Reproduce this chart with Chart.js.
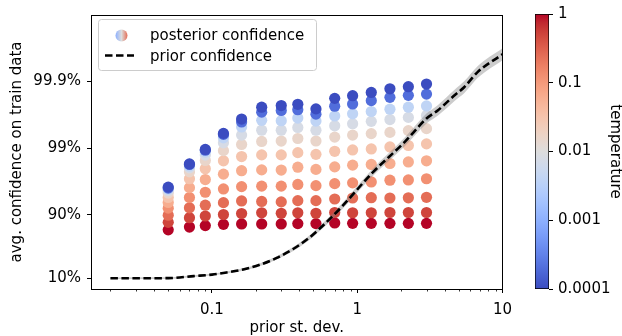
<!DOCTYPE html>
<html>
<head>
<meta charset="utf-8">
<script src="https://cdn.jsdelivr.net/npm/chart.js@4.4.0/dist/chart.umd.min.js"></script>
<style>
  html, body { margin: 0; padding: 0; background: #fff; }
  #wrap { position: relative; width: 622px; height: 336px; overflow: hidden; }
  #main { position: absolute; left: 0; top: 0; }
  #cbar { position: absolute; left: 520px; top: 0; }
</style>
</head>
<body>
<div id="wrap">
  <canvas id="main" width="520" height="336"></canvas>
  <canvas id="cbar" width="102" height="336"></canvas>
</div>
<script>
// y values are "nines" of confidence: -log10(1 - confidence)

// prior st. dev. of the scatter columns
const priorStd = [0.05, 0.07, 0.09, 0.12, 0.16, 0.22, 0.3, 0.39, 0.52, 0.7, 0.93, 1.25, 1.68, 2.25, 3.0];

// posterior temperatures (one row of dots per temperature)
const temperatures = [1, 0.5, 0.25, 0.125, 0.0625, 0.03125, 0.015625, 0.0078125, 0.00390625, 0.0002, 0.0001];

const post_t1     = [0.773, 0.815, 0.837, 0.856, 0.862, 0.862, 0.862, 0.867, 0.867, 0.877, 0.871, 0.871, 0.871, 0.871, 0.871];
const post_t2     = [0.886, 0.956, 0.981, 1.004, 1.019, 1.030, 1.022, 1.030, 1.022, 1.034, 1.030, 1.030, 1.034, 1.034, 1.034];
const post_t4     = [0.993, 1.104, 1.144, 1.182, 1.207, 1.200, 1.193, 1.212, 1.212, 1.237, 1.252, 1.256, 1.252, 1.255, 1.262];
const post_t8     = [1.099, 1.259, 1.338, 1.388, 1.422, 1.430, 1.430, 1.455, 1.437, 1.467, 1.479, 1.493, 1.519, 1.523, 1.541];
const post_t16    = [1.185, 1.407, 1.529, 1.610, 1.662, 1.674, 1.671, 1.714, 1.681, 1.719, 1.745, 1.756, 1.770, 1.793, 1.810];
const post_t32    = [1.259, 1.541, 1.692, 1.810, 1.874, 1.899, 1.899, 1.933, 1.907, 1.953, 1.973, 1.988, 2.018, 2.040, 2.064];
const post_t64    = [1.326, 1.644, 1.815, 1.963, 2.056, 2.101, 2.107, 2.145, 2.108, 2.166, 2.196, 2.219, 2.237, 2.264, 2.293];
const post_t128   = [1.363, 1.704, 1.896, 2.081, 2.196, 2.270, 2.270, 2.311, 2.270, 2.336, 2.367, 2.403, 2.430, 2.462, 2.492];
const post_t256   = [1.385, 1.733, 1.941, 2.156, 2.319, 2.418, 2.412, 2.452, 2.407, 2.484, 2.516, 2.551, 2.585, 2.615, 2.634];
const post_t2e4   = [1.400, 1.756, 1.970, 2.207, 2.393, 2.541, 2.566, 2.578, 2.511, 2.630, 2.664, 2.714, 2.763, 2.793, 2.812];
const post_t1e4   = [1.415, 1.763, 1.981, 2.222, 2.437, 2.615, 2.640, 2.659, 2.590, 2.748, 2.788, 2.837, 2.892, 2.923, 2.963];

const posteriorRows = [post_t1, post_t2, post_t4, post_t8, post_t16, post_t32, post_t64, post_t128, post_t256, post_t2e4, post_t1e4];

// prior confidence curve and its grey band
const priorX      = [0.02, 0.05, 0.075, 0.1, 0.126, 0.164, 0.213, 0.277, 0.36, 0.468, 0.608, 0.789, 1.265, 2.134, 3.0, 3.6, 4.68, 5.47, 6.74, 10];
const priorNines  = [0.046, 0.048, 0.079, 0.101, 0.133, 0.178, 0.248, 0.348, 0.482, 0.655, 0.879, 1.128, 1.625, 2.098, 2.445, 2.570, 2.794, 2.918, 3.142, 3.411];
const priorBandLo = [0.034, 0.036, 0.067, 0.088, 0.118, 0.160, 0.228, 0.323, 0.452, 0.620, 0.839, 1.083, 1.570, 2.033, 2.370, 2.490, 2.709, 2.828, 3.052, 3.321];
const priorBandHi = [0.058, 0.060, 0.091, 0.114, 0.148, 0.196, 0.268, 0.373, 0.512, 0.690, 0.919, 1.173, 1.680, 2.163, 2.520, 2.650, 2.879, 3.008, 3.232, 3.501];

// ticks
const xTickValues = [0.1, 1, 10];
const xTickLabels = ['0.1', '1', '10'];
const xMinorTicks = [0.02, 0.03, 0.04, 0.05, 0.06, 0.07, 0.08, 0.09,
                     0.2, 0.3, 0.4, 0.5, 0.6, 0.7, 0.8, 0.9,
                     2, 3, 4, 5, 6, 7, 8, 9];
const yTickConf = [0.1, 0.9, 0.99, 0.999];
const yTickLabels = ['10%', '90%', '99%', '99.9%'];
const cbarTickValues = [1, 0.1, 0.01, 0.001, 0.0001];
const cbarTickLabels = ['1', '0.1', '0.01', '0.001', '0.0001'];

Chart.defaults.font.family = 'DejaVu Sans';
Chart.defaults.font.size = 15;
Chart.defaults.color = '#000';

// matplotlib coolwarm, 33 samples
const COOLWARM = [
  [59,76,192],[68,90,204],[77,104,215],[87,117,225],[98,130,234],[108,142,241],[119,154,247],[130,165,251],
  [141,176,254],[152,185,255],[163,194,255],[174,201,253],[184,208,249],[194,213,244],[204,217,238],[213,219,230],
  [221,221,221],[229,216,209],[236,211,197],[241,204,185],[245,196,173],[247,187,160],[247,177,148],[247,166,135],
  [244,154,123],[241,141,111],[236,127,99],[229,112,88],[222,96,77],[213,80,66],[203,62,56],[192,40,47],[180,4,38]
];

const coolwarm = (t) => {
    t = Math.max(0, Math.min(1, t));
    const f = t * 32;
    const i = Math.min(31, Math.floor(f));
    const w = f - i;
    const a = COOLWARM[i], b = COOLWARM[i + 1];
    const c = a.map((v, k) => Math.round(v + (b[k] - v) * w));
    return `rgb(${c[0]},${c[1]},${c[2]})`;
};

// colorbar is log scaled from 1e-4 to 1
const tempPos = (T) => (Math.log10(T) + 4) / 4;

const datasets = [];
posteriorRows.forEach((row, i) => {
    datasets.push({
        type: 'scatter',
        data: row.map((v, j) => ({ x: priorStd[j], y: v })),
        backgroundColor: coolwarm(tempPos(temperatures[i])),
        borderWidth: 0,
        pointRadius: 5.6,
        pointHoverRadius: 5.6,
        order: 100 - i
    });
});

datasets.push({
    type: 'line',
    data: priorX.map((x, j) => ({ x: x, y: priorBandLo[j] })),
    borderWidth: 0,
    pointRadius: 0,
    fill: false,
    cubicInterpolationMode: 'monotone',
    order: 2
});
datasets.push({
    type: 'line',
    data: priorX.map((x, j) => ({ x: x, y: priorBandHi[j] })),
    borderWidth: 0,
    pointRadius: 0,
    backgroundColor: 'rgba(128,128,128,0.4)',
    fill: '-1',
    cubicInterpolationMode: 'monotone',
    order: 2
});
datasets.push({
    type: 'line',
    data: priorX.map((x, j) => ({ x: x, y: priorNines[j] })),
    borderColor: '#000',
    borderWidth: 2.6,
    borderDash: [7.5, 3.5],
    pointRadius: 0,
    fill: false,
    cubicInterpolationMode: 'monotone',
    order: 0
});

// frame, minor ticks and the legend box
const decorations = {
    id: 'decorations',
    afterDraw(chart) {
        const ctx = chart.ctx;
        const a = chart.chartArea;
        const sx = chart.scales.x;
        ctx.save();

        ctx.strokeStyle = '#000';
        ctx.lineWidth = 1;
        ctx.strokeRect(Math.round(a.left) + 0.5, Math.round(a.top) + 0.5,
                       Math.round(a.right - a.left), Math.round(a.bottom - a.top));

        ctx.lineWidth = 0.8;
        ctx.beginPath();
        xMinorTicks.forEach(v => {
            const px = Math.round(sx.getPixelForValue(v)) + 0.5;
            ctx.moveTo(px, a.bottom);
            ctx.lineTo(px, a.bottom + 2.5);
        });
        ctx.stroke();

        // legend
        const bx = 98.5, by = 19.5, bw = 218, bh = 51, r = 3;
        ctx.beginPath();
        ctx.moveTo(bx + r, by);
        ctx.arcTo(bx + bw, by, bx + bw, by + bh, r);
        ctx.arcTo(bx + bw, by + bh, bx, by + bh, r);
        ctx.arcTo(bx, by + bh, bx, by, r);
        ctx.arcTo(bx, by, bx + bw, by, r);
        ctx.closePath();
        ctx.fillStyle = 'rgba(255,255,255,0.8)';
        ctx.fill();
        ctx.strokeStyle = '#cccccc';
        ctx.lineWidth = 1;
        ctx.stroke();

        const g = ctx.createLinearGradient(115.5, 0, 127.5, 0);
        g.addColorStop(0, coolwarm(0.25));
        g.addColorStop(0.5, coolwarm(0.5));
        g.addColorStop(1, coolwarm(0.85));
        ctx.beginPath();
        ctx.arc(121.5, 35.5, 6, 0, Math.PI * 2);
        ctx.fillStyle = g;
        ctx.fill();

        ctx.beginPath();
        ctx.setLineDash([7.5, 3.5]);
        ctx.lineWidth = 2.6;
        ctx.strokeStyle = '#000';
        ctx.moveTo(105, 55.5);
        ctx.lineTo(134, 55.5);
        ctx.stroke();
        ctx.setLineDash([]);

        ctx.fillStyle = '#000';
        ctx.font = '15px "DejaVu Sans"';
        ctx.textBaseline = 'alphabetic';
        ctx.textAlign = 'left';
        ctx.fillText('posterior confidence', 150, 40);
        ctx.fillText('prior confidence', 150, 60.5);
        ctx.restore();
    }
};

new Chart(document.getElementById('main'), {
    type: 'scatter',
    data: { datasets: datasets },
    options: {
        responsive: false,
        animation: false,
        layout: { padding: { top: 12, right: 15, left: 0, bottom: 0 } },
        plugins: {
            legend: { display: false },
            tooltip: { enabled: false }
        },
        scales: {
            x: {
                type: 'logarithmic',
                min: 0.0147,
                max: 10,
                afterBuildTicks: (s) => { s.ticks = xTickValues.map(v => ({ value: v })); },
                afterFit: (s) => { s.height = 47; },
                ticks: {
                    callback: (v, i) => xTickLabels[i],
                    autoSkip: false,
                    maxRotation: 0,
                    padding: 8
                },
                grid: { drawOnChartArea: false, drawTicks: true, tickLength: 4, tickColor: '#000' },
                border: { display: false },
                title: {
                    display: true,
                    text: 'prior st. dev.',
                    font: { lineHeight: 1.0 },
                    padding: { top: 0, bottom: 0 }
                }
            },
            y: {
                min: -0.115,
                max: 4.0,
                afterBuildTicks: (s) => { s.ticks = yTickConf.map(p => ({ value: -Math.log10(1 - p) })); },
                afterFit: (s) => { s.width = 91; },
                ticks: {
                    callback: (v, i) => yTickLabels[i],
                    autoSkip: false,
                    padding: 6
                },
                grid: { drawOnChartArea: false, drawTicks: true, tickLength: 4, tickColor: '#000' },
                border: { display: false },
                title: { display: true, text: 'avg. confidence on train data', padding: { top: 8, bottom: 0 } }
            }
        }
    },
    plugins: [decorations]
});

// colorbar
const cbarGradient = (chart) => {
    const a = chart.chartArea;
    if (!a) return '#ddd';
    const g = chart.ctx.createLinearGradient(0, a.bottom, 0, a.top);
    COOLWARM.forEach((c, k) => g.addColorStop(k / 32, `rgb(${c[0]},${c[1]},${c[2]})`));
    return g;
};

new Chart(document.getElementById('cbar'), {
    type: 'bar',
    data: {
        labels: [''],
        datasets: [{
            data: [[0.0001, 1]],
            backgroundColor: (ctx) => cbarGradient(ctx.chart),
            borderColor: '#000',
            borderWidth: 1,
            borderSkipped: false,
            barPercentage: 1,
            categoryPercentage: 1
        }]
    },
    options: {
        responsive: false,
        animation: false,
        layout: { padding: { left: 15, top: 12, bottom: 47, right: 0 } },
        plugins: {
            legend: { display: false },
            tooltip: { enabled: false }
        },
        scales: {
            x: { display: false },
            y: {
                type: 'logarithmic',
                position: 'right',
                min: 0.0001,
                max: 1,
                afterBuildTicks: (s) => { s.ticks = cbarTickValues.map(v => ({ value: v })); },
                afterFit: (s) => { s.width = 73; },
                ticks: {
                    callback: (v, i) => cbarTickLabels[i],
                    autoSkip: false,
                    padding: 5
                },
                grid: { drawOnChartArea: false, drawTicks: true, tickLength: 4, tickColor: '#000' },
                border: { display: false },
                title: { display: true, text: 'temperature', padding: { top: -2, bottom: 0 } }
            }
        }
    }
});
</script>
</body>
</html>
